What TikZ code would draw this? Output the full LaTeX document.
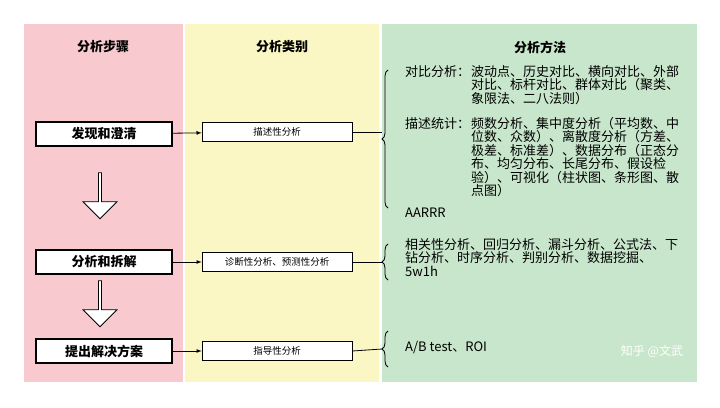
\documentclass[tikz,border=0pt]{standalone}
\usepackage{fontspec}
\setmainfont{Noto Sans CJK SC}
\usetikzlibrary{decorations.pathreplacing,shapes.arrows}
\definecolor{pinkc}{HTML}{F9C9D0}
\definecolor{yelc}{HTML}{FBF7C4}
\definecolor{grnc}{HTML}{C8E6CB}
\tikzset{
 hdr/.style={font=\bfseries\fontsize{13}{15}\selectfont},
 stepbox/.style={draw=black,line width=1.6pt,fill=white,minimum width=136pt,minimum height=24pt,font=\bfseries\fontsize{13}{15}\selectfont},
 catbox/.style={draw=black,line width=0.6pt,fill=white,minimum width=150pt,minimum height=19pt,font=\fontsize{9.5}{11}\selectfont},
 txt/.style={font=\fontsize{13}{13.5}\selectfont,align=left,inner sep=0pt,anchor=north west},
 conn/.style={line width=0.8pt,-latex},
 brc/.style={decorate,decoration={brace,amplitude=6pt},line width=0.8pt},
 down/.style={single arrow,draw=black,line width=0.8pt,fill=white,shape border rotate=270,minimum height=46pt,minimum width=34pt,single arrow head extend=4pt,inner sep=0pt}
}
\begin{document}
\begin{tikzpicture}[x=1pt,y=-1pt]
\useasboundingbox[fill=white] (0,0) rectangle (720,407);
\fill[pinkc] (24,24) rectangle (183,382);
\fill[yelc] (185,24) rectangle (379,382);
\fill[grnc] (382,24) rectangle (697,382);
\node[hdr] (h1) at (103,47) {分析步骤};
\node[hdr] (h2) at (282,47) {分析类别};
\node[hdr] (h3) at (540,47) {分析方法};
\node[stepbox] (s1) at (104,134) {发现和澄清};
\node[stepbox] (s2) at (104,262) {分析和拆解};
\node[stepbox] (s3) at (104,351) {提出解决方案};
\node[down] (a1) at (100,195) {};
\node[down] (a2) at (100,303) {};
\node[catbox] (c1) at (277,132) {描述性分析};
\node[catbox] (c2) at (277,262) {诊断性分析、预测性分析};
\node[catbox] (c3) at (277,351) {指导性分析};
\coordinate (b1t) at (388,70); \coordinate (b1b) at (388,208);
\coordinate (b2t) at (388,244); \coordinate (b2b) at (388,280);
\coordinate (b3t) at (388,331); \coordinate (b3b) at (388,367);
\draw[brc] (b1b) -- (b1t) coordinate[midway,xshift=-6pt] (t1);
\draw[brc] (b2b) -- (b2t) coordinate[midway,xshift=-6pt] (t2);
\draw[brc] (b3b) -- (b3t) coordinate[midway,xshift=-6pt] (t3);
\draw[conn] (s1) -- (c1);
\draw[conn] (s2) -- (c2);
\draw[conn] (s3) -- (c3);
\draw[line width=0.8pt] (c1.east) -- (t1|-c1.east);
\draw[line width=0.8pt] (c2.east) -- (t2);
\draw[line width=0.8pt] (c3.east) -- (t3);
\node[txt] (l1) at (405,65) {对比分析：};
\node[txt] (m1) at (471,65) {波动点、历史对比、横向对比、外部\\对比、标杆对比、群体对比（聚类、\\象限法、二八法则）};
\node[txt] (l2) at (405,117) {描述统计：};
\node[txt] (m2) at (471,117) {频数分析、集中度分析（平均数、中\\位数、众数）、离散度分析（方差、\\极差、标准差）、数据分布（正态分\\布、均匀分布、长尾分布、假设检\\验）、可视化（柱状图、条形图、散\\点图）};
\node[txt] (m3) at (405,208) {AARRR};
\node[txt] (m4) at (405,238) {相关性分析、回归分析、漏斗分析、公式法、下\\钻分析、时序分析、判别分析、数据挖掘、\\5w1h};
\node[txt] (m5) at (405,341) {A/B test、ROI};
\node[font=\fontsize{12}{14}\selectfont,text=white] (wm) at (652,351) {知乎 @文武};
\end{tikzpicture}
\end{document}
